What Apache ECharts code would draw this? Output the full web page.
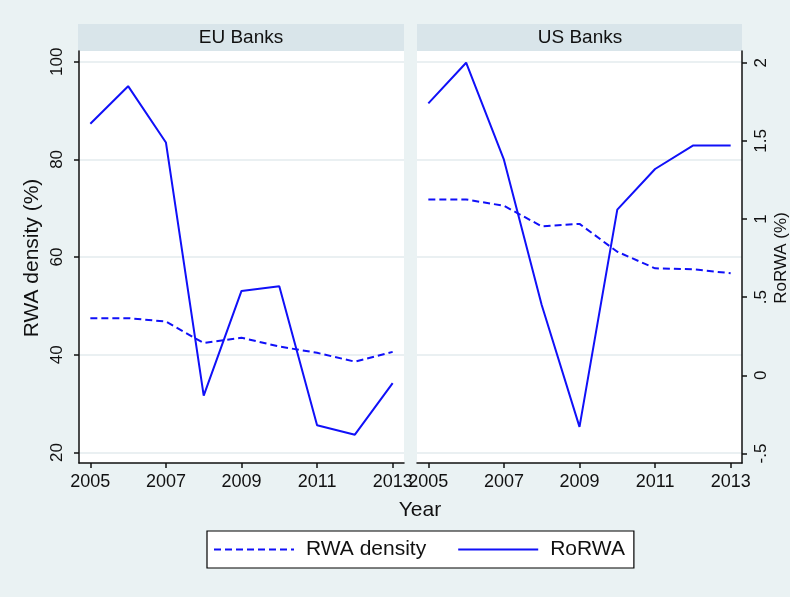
<!DOCTYPE html>
<html>
<head>
<meta charset="utf-8">
<script src="https://cdn.jsdelivr.net/npm/echarts@6/dist/echarts.min.js"></script>
<style>
html,body{margin:0;padding:0;background:#eaf2f3;}
#chart{width:790px;height:597px;}
</style>
</head>
<body>
<div id="chart"></div>
<script>
// ---- data ----
const years = [2005, 2006, 2007, 2008, 2009, 2010, 2011, 2012, 2013];
const euRwaDensity = [47.5, 47.5, 46.8, 42.4, 43.5, 41.7, 40.4, 38.6, 40.6];
const euRoRWA = [1.61, 1.85, 1.49, -0.13, 0.54, 0.57, -0.32, -0.38, -0.05];
const usRwaDensity = [71.8, 71.8, 70.5, 66.3, 66.8, 61.1, 57.7, 57.5, 56.7];
const usRoRWA = [1.74, 2.00, 1.38, 0.45, -0.33, 1.06, 1.32, 1.47, 1.47];
const panelTitles = ['EU Banks', 'US Banks'];
const xTicks = [2005, 2007, 2009, 2011, 2013];
const leftTicks = [20, 40, 60, 80, 100];
const rightTicks = [-0.5, 0, 0.5, 1, 1.5, 2];

const pairs = (vals) => years.map((y, i) => [y, vals[i]]);
const FONT = '"Liberation Sans", Arial, sans-serif';
const BLUE = '#1010f8';
const AXIS = '#111';

const chart = echarts.init(document.getElementById('chart'), null, {renderer: 'canvas'});

const grids = [
  {left: 79, top: 51, width: 325, height: 412},
  {left: 417, top: 51, width: 325, height: 412}
];

function xAxisFor(gi) {
  return {
    type: 'value', gridIndex: gi, min: 2004.7, max: 2013.3,
    axisLine: {show: true, onZero: false, lineStyle: {color: AXIS, width: 1.5}},
    axisTick: {show: true, length: 5, lineStyle: {color: AXIS, width: 1.5}, customValues: xTicks},
    axisLabel: {show: true, customValues: xTicks, margin: 10, fontSize: 18, color: '#111', fontFamily: FONT,
      formatter: v => String(v)},
    splitLine: {show: false}
  };
}
const leftMin = 17.85, leftMax = 102.19, rightMin = -0.561, rightMax = 2.075;
const fmtRight = v => {
  if (v === 0) return '0';
  const s = String(Math.abs(v)).replace(/^0/, '');
  return (v < 0 ? '-' : '') + s;
};

const option = {
  backgroundColor: '#eaf2f3',
  animation: false,
  grid: grids.map(g => Object.assign({backgroundColor: '#ffffff', show: true, borderWidth: 0}, g)),
  xAxis: [xAxisFor(0), xAxisFor(1)],
  yAxis: [
    { // EU left (RWA density)
      type: 'value', gridIndex: 0, position: 'left', min: leftMin, max: leftMax,
      axisLine: {show: true, onZero: false, lineStyle: {color: AXIS, width: 1.5}},
      axisTick: {show: true, length: 5, lineStyle: {color: AXIS, width: 1.5}, customValues: leftTicks},
      axisLabel: {show: true, customValues: leftTicks, rotate: 90, margin: 13, fontSize: 17, color: '#111', fontFamily: FONT},
      splitLine: {show: true, lineStyle: {color: '#e3ebee', width: 1.5}}
    },
    { // EU right (RoRWA), hidden
      type: 'value', gridIndex: 0, position: 'right', min: rightMin, max: rightMax, show: false,
      splitLine: {show: false}
    },
    { // US left (RWA density), only gridlines
      type: 'value', gridIndex: 1, position: 'left', min: leftMin, max: leftMax,
      axisLine: {show: false}, axisLabel: {show: false},
      axisTick: {show: false, customValues: leftTicks},
      splitLine: {show: true, lineStyle: {color: '#e3ebee', width: 1.5}}
    },
    { // US right (RoRWA)
      type: 'value', gridIndex: 1, position: 'right', min: rightMin, max: rightMax,
      axisLine: {show: true, onZero: false, lineStyle: {color: AXIS, width: 1.5}},
      axisTick: {show: true, length: 5, lineStyle: {color: AXIS, width: 1.5}, customValues: rightTicks},
      axisLabel: {show: true, customValues: rightTicks, rotate: 90, margin: 11, fontSize: 17, color: '#111', fontFamily: FONT,
        formatter: fmtRight},
      splitLine: {show: false}
    }
  ],
  legend: {
    left: 207, top: 531,
    data: ['RWA density', 'RoRWA'],
    backgroundColor: '#ffffff', borderColor: '#000', borderWidth: 1.2,
    padding: [8, 9, 8, 6],
    itemWidth: 80, itemHeight: 14, itemGap: 31,
    itemStyle: {opacity: 0},
    textStyle: {fontSize: 21, color: '#111', fontFamily: FONT, padding: [0, 0, 0, 7]}
  },
  series: [
    {name: 'RWA density', type: 'line', xAxisIndex: 0, yAxisIndex: 0, data: pairs(euRwaDensity),
      showSymbol: false, symbol: 'none', lineStyle: {color: BLUE, width: 2, type: [7, 4]}, itemStyle: {color: BLUE}},
    {name: 'RoRWA', type: 'line', xAxisIndex: 0, yAxisIndex: 1, data: pairs(euRoRWA),
      showSymbol: false, symbol: 'none', lineStyle: {color: BLUE, width: 2}, itemStyle: {color: BLUE}},
    {name: 'RWA density', type: 'line', xAxisIndex: 1, yAxisIndex: 2, data: pairs(usRwaDensity),
      showSymbol: false, symbol: 'none', lineStyle: {color: BLUE, width: 2, type: [7, 4]}, itemStyle: {color: BLUE}},
    {name: 'RoRWA', type: 'line', xAxisIndex: 1, yAxisIndex: 3, data: pairs(usRoRWA),
      showSymbol: false, symbol: 'none', lineStyle: {color: BLUE, width: 2}, itemStyle: {color: BLUE}}
  ],
  graphic: [
    {type: 'rect', shape: {x: 78, y: 24, width: 326, height: 27}, style: {fill: '#d9e5ea'}, silent: true},
    {type: 'rect', shape: {x: 417, y: 24, width: 325, height: 27}, style: {fill: '#d9e5ea'}, silent: true},
    {type: 'text', x: 241, y: 38, silent: true,
      style: {text: panelTitles[0], fontSize: 19, fontFamily: FONT, fill: '#111', textAlign: 'center', textVerticalAlign: 'middle'}},
    {type: 'text', x: 580, y: 38, silent: true,
      style: {text: panelTitles[1], fontSize: 19, fontFamily: FONT, fill: '#111', textAlign: 'center', textVerticalAlign: 'middle'}},
    {type: 'text', x: 420, y: 510, silent: true,
      style: {text: 'Year', fontSize: 21, fontFamily: FONT, fill: '#111', textAlign: 'center', textVerticalAlign: 'middle'}},
    {type: 'text', x: 32, y: 258, rotation: Math.PI / 2, silent: true,
      style: {text: 'RWA density (%)', fontSize: 21, fontFamily: FONT, fill: '#111', textAlign: 'center', textVerticalAlign: 'middle'}},
    {type: 'text', x: 781, y: 258, rotation: Math.PI / 2, silent: true,
      style: {text: 'RoRWA (%)', fontSize: 17, fontFamily: FONT, fill: '#111', textAlign: 'center', textVerticalAlign: 'middle'}}
  ]
};
chart.setOption(option);
</script>
</body>
</html>
